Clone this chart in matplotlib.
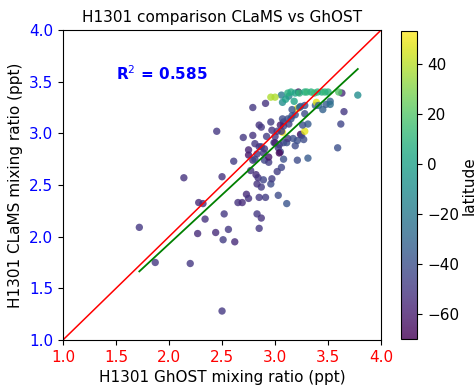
import numpy as np
import matplotlib
matplotlib.use('Agg')
import matplotlib.pyplot as plt

# GhOST vs CLaMS H1301 (ppt) and latitude of each sample
ghost = [1.72, 1.87, 2.14, 2.20, 2.28, 2.32, 2.34, 2.27, 2.45, 2.44,
         2.50, 2.52, 2.56, 2.51, 2.62, 2.50, 2.61, 2.70, 2.79, 2.79,
         2.91, 2.65, 2.69, 2.73, 2.75, 2.77, 2.75, 2.75, 2.81, 2.85,
         2.83, 2.79, 2.81, 2.85, 2.87, 2.96, 2.82, 2.84, 2.87, 2.83,
         2.85, 2.91, 2.83, 2.87, 2.85, 2.90, 2.94, 2.94, 2.89, 2.90,
         2.87, 2.89, 2.96, 2.97, 3.03, 3.11, 3.02, 3.06, 3.08, 3.21,
         3.31, 3.59, 3.62, 3.65, 3.63, 3.78, 2.99, 3.00, 2.92, 2.97,
         3.00, 3.04, 3.03, 3.05, 3.04, 3.08, 3.11, 3.12, 3.17, 3.19,
         3.21, 3.24, 3.25, 3.27, 3.28, 3.07, 3.06, 3.02, 3.08, 3.13,
         3.08, 3.05, 3.15, 3.07, 3.12, 3.16, 3.19, 3.21, 3.24, 3.23,
         3.16, 3.28, 3.31, 3.26, 3.28, 3.38, 3.39, 3.41, 3.45, 3.48,
         3.52, 3.52, 3.07, 3.06, 3.13, 3.22, 2.96, 3.00, 3.12, 3.15,
         3.19, 3.23, 3.28, 3.30, 3.34, 3.37, 3.40, 3.44, 3.47, 3.50,
         3.60, 3.10, 3.18]
clams = [2.09, 1.75, 2.57, 1.74, 2.33, 2.32, 2.17, 2.03, 3.02, 2.04,
         2.58, 2.22, 2.07, 1.97, 1.95, 1.28, 2.73, 2.96, 2.98, 3.25,
         3.29, 2.33, 2.33, 2.41, 2.37, 2.64, 2.79, 2.84, 2.90, 2.87,
         2.80, 2.74, 2.75, 3.08, 3.06, 3.11, 2.60, 2.57, 2.48, 2.51,
         2.38, 2.38, 2.22, 2.18, 2.08, 2.74, 2.72, 2.77, 2.81, 2.85,
         2.87, 2.55, 2.51, 2.56, 2.40, 2.32, 2.63, 2.67, 2.75, 2.74,
         2.76, 2.86, 3.09, 3.21, 3.39, 3.37, 2.91, 2.97, 2.97, 3.03,
         2.91, 2.89, 2.86, 2.82, 2.81, 2.91, 2.91, 2.95, 2.95, 2.88,
         2.93, 2.99, 2.98, 2.94, 3.02, 3.01, 3.02, 3.02, 3.07, 3.09,
         3.11, 3.08, 3.14, 3.14, 3.14, 3.17, 3.18, 3.24, 3.26, 3.25,
         3.23, 3.27, 3.09, 3.08, 3.19, 3.27, 3.30, 3.27, 3.23, 3.28,
         3.31, 3.28, 3.30, 3.37, 3.36, 3.40, 3.35, 3.35, 3.39, 3.40,
         3.39, 3.39, 3.40, 3.40, 3.40, 3.39, 3.40, 3.40, 3.40, 3.40,
         3.40, 3.33, 3.31]
latitude = [-50, -50, -52, -50, -55, -55, -52, -55, -50, -55,
            -52, -50, -50, -48, -55, -50, -48, -50, -52, -50,
            -52, -52, -55, -55, -52, -52, -62, -58, -50, -52,
            -50, -52, -45, -52, -50, -48, -55, -52, -48, -52,
            -50, -48, -50, -52, -50, -45, -48, -62, -50, -52,
            -48, -45, -42, -48, -42, -38, -48, -45, -40, -42,
            -35, -40, -45, -50, -55, -10, -48, -50, -48, -52,
            -60, -45, -50, -42, -68, -45, -40, -50, -40, -42,
            -40, -68, -45, -42, 48, 50, -50, -48, -45, -48,
            -45, -60, -38, -42, -40, -38, -38, 48, -35, -30,
            -38, -40, -35, -40, -42, -35, 48, -30, -32, -35,
            -30, -25, -10, -20, -15, -65, 38, 38, 8, 5,
            2, 10, 5, 12, 8, 15, 10, 6, 12, 8,
            20, 0, 2]

fit_slope = 0.951
fit_intercept = 0.028
r2 = 0.585

fig = plt.figure(figsize=(4.77, 3.85), dpi=100)
ax = fig.add_axes([0.132, 0.117, 0.667, 0.805])
cax = fig.add_axes([0.841, 0.119, 0.034, 0.80])

sc = ax.scatter(ghost, clams, c=latitude, cmap='viridis', s=28, alpha=0.8,
                vmin=-70, vmax=53, edgecolors='none')
ax.plot([1, 4], [1, 4], color='red', lw=1.1)
xfit = np.array([min(ghost), max(ghost)])
ax.plot(xfit, fit_slope * xfit + fit_intercept, color='green', lw=1.3)

ax.text(1.5, 3.52, r'R$^2$ = %.3f' % r2, color='blue', fontsize=11,
        fontweight='bold')

ax.set_xlim(1, 4)
ax.set_ylim(1, 4)
ax.set_xticks(np.arange(1.0, 4.01, 0.5))
ax.set_yticks(np.arange(1.0, 4.01, 0.5))
ax.tick_params(axis='x', labelcolor='red', labelsize=11)
ax.tick_params(axis='y', labelcolor='blue', labelsize=11)
ax.set_xlabel('H1301 GhOST mixing ratio (ppt)', fontsize=11)
ax.set_ylabel('H1301 CLaMS mixing ratio (ppt)', fontsize=11)
ax.set_title('H1301 comparison CLaMS vs GhOST', fontsize=11)

cb = fig.colorbar(sc, cax=cax)
cb.set_ticks([-60, -40, -20, 0, 20, 40])
cb.ax.tick_params(labelsize=11)
cb.set_label('latitude', fontsize=11, labelpad=2)

fig.savefig('out.png', dpi=100)
